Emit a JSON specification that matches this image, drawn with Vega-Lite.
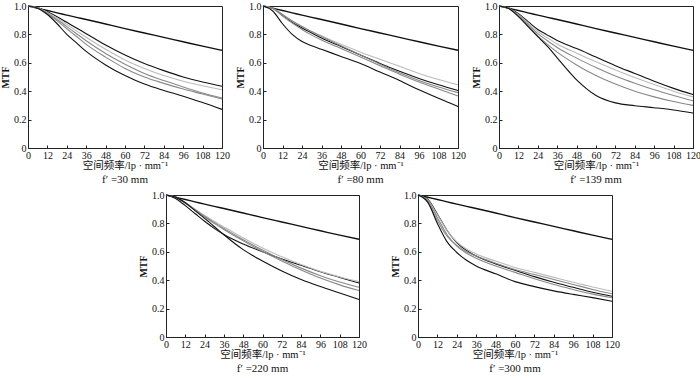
{
  "$schema": "https://vega.github.io/schema/vega-lite/v6.json",
  "background": "white",
  "padding": {"left": 0, "top": 0, "right": 0, "bottom": 0},
  "config": {
    "view": {"stroke": "#222", "strokeWidth": 1},
    "axis": {
      "domainColor": "#222", "domainWidth": 1,
      "tickColor": "#222", "tickSize": -3, "tickWidth": 1,
      "labelFont": "Liberation Serif", "labelFontSize": 10, "labelColor": "#111", "labelPadding": 5,
      "titleFont": "Liberation Serif, Noto Sans CJK SC", "titleFontSize": 10.5, "titleFontWeight": "normal", "titleColor": "#111",
      "grid": false, "labelFlush": false
    },
    "axisX": {"titlePadding": 0},
    "axisY": {"titleFontWeight": "bold", "titleFontSize": 10, "titlePadding": 3},
    "title": {"orient": "bottom", "font": "Liberation Serif", "fontSize": 11, "fontWeight": "normal", "color": "#111", "offset": 3, "anchor": "middle"}
  },
  "datasets": {
    "mtf": [
      {"panel":"30","freq":0,"diffraction":1,"c1":1,"c2":1,"c3":1,"c4":1,"c5":1},
      {"panel":"30","freq":6,"diffraction":0.984,"c1":0.99,"c2":0.988,"c3":0.987,"c4":0.986,"c5":0.985},
      {"panel":"30","freq":12,"diffraction":0.968,"c1":0.96,"c2":0.955,"c3":0.95,"c4":0.945,"c5":0.94},
      {"panel":"30","freq":18,"diffraction":0.952,"c1":0.925,"c2":0.915,"c3":0.905,"c4":0.895,"c5":0.875},
      {"panel":"30","freq":24,"diffraction":0.936,"c1":0.885,"c2":0.87,"c3":0.855,"c4":0.84,"c5":0.8},
      {"panel":"30","freq":30,"diffraction":0.92,"c1":0.845,"c2":0.825,"c3":0.805,"c4":0.785,"c5":0.74},
      {"panel":"30","freq":36,"diffraction":0.905,"c1":0.805,"c2":0.78,"c3":0.755,"c4":0.73,"c5":0.68},
      {"panel":"30","freq":48,"diffraction":0.873,"c1":0.725,"c2":0.695,"c3":0.665,"c4":0.64,"c5":0.585},
      {"panel":"30","freq":60,"diffraction":0.841,"c1":0.655,"c2":0.62,"c3":0.59,"c4":0.56,"c5":0.51},
      {"panel":"30","freq":72,"diffraction":0.81,"c1":0.595,"c2":0.56,"c3":0.525,"c4":0.5,"c5":0.45},
      {"panel":"30","freq":84,"diffraction":0.779,"c1":0.545,"c2":0.51,"c3":0.475,"c4":0.455,"c5":0.405},
      {"panel":"30","freq":96,"diffraction":0.748,"c1":0.5,"c2":0.47,"c3":0.43,"c4":0.415,"c5":0.365},
      {"panel":"30","freq":108,"diffraction":0.717,"c1":0.465,"c2":0.438,"c3":0.388,"c4":0.38,"c5":0.32},
      {"panel":"30","freq":120,"diffraction":0.688,"c1":0.435,"c2":0.41,"c3":0.352,"c4":0.345,"c5":0.272},

      {"panel":"80","freq":0,"diffraction":1,"c1":1,"c2":1,"c3":1,"c4":1,"c5":1},
      {"panel":"80","freq":6,"diffraction":0.984,"c1":0.985,"c2":0.985,"c3":0.985,"c4":0.983,"c5":0.965},
      {"panel":"80","freq":12,"diffraction":0.968,"c1":0.935,"c2":0.94,"c3":0.94,"c4":0.93,"c5":0.875},
      {"panel":"80","freq":18,"diffraction":0.952,"c1":0.885,"c2":0.895,"c3":0.895,"c4":0.88,"c5":0.8},
      {"panel":"80","freq":24,"diffraction":0.936,"c1":0.845,"c2":0.855,"c3":0.855,"c4":0.835,"c5":0.75},
      {"panel":"80","freq":30,"diffraction":0.92,"c1":0.81,"c2":0.82,"c3":0.82,"c4":0.795,"c5":0.72},
      {"panel":"80","freq":36,"diffraction":0.905,"c1":0.775,"c2":0.79,"c3":0.785,"c4":0.76,"c5":0.695},
      {"panel":"80","freq":48,"diffraction":0.873,"c1":0.715,"c2":0.73,"c3":0.72,"c4":0.7,"c5":0.645},
      {"panel":"80","freq":60,"diffraction":0.841,"c1":0.655,"c2":0.675,"c3":0.655,"c4":0.64,"c5":0.595},
      {"panel":"80","freq":72,"diffraction":0.81,"c1":0.595,"c2":0.625,"c3":0.59,"c4":0.58,"c5":0.535},
      {"panel":"80","freq":84,"diffraction":0.779,"c1":0.54,"c2":0.575,"c3":0.53,"c4":0.52,"c5":0.475},
      {"panel":"80","freq":96,"diffraction":0.748,"c1":0.49,"c2":0.525,"c3":0.476,"c4":0.465,"c5":0.41},
      {"panel":"80","freq":108,"diffraction":0.717,"c1":0.445,"c2":0.482,"c3":0.43,"c4":0.415,"c5":0.35},
      {"panel":"80","freq":120,"diffraction":0.688,"c1":0.405,"c2":0.445,"c3":0.39,"c4":0.366,"c5":0.293},

      {"panel":"139","freq":0,"diffraction":1,"c1":1,"c2":1,"c3":1,"c4":1,"c5":1},
      {"panel":"139","freq":6,"diffraction":0.984,"c1":0.985,"c2":0.985,"c3":0.984,"c4":0.983,"c5":0.982},
      {"panel":"139","freq":12,"diffraction":0.968,"c1":0.945,"c2":0.94,"c3":0.935,"c4":0.93,"c5":0.925},
      {"panel":"139","freq":18,"diffraction":0.952,"c1":0.89,"c2":0.88,"c3":0.87,"c4":0.86,"c5":0.855},
      {"panel":"139","freq":24,"diffraction":0.936,"c1":0.835,"c2":0.82,"c3":0.805,"c4":0.79,"c5":0.785},
      {"panel":"139","freq":30,"diffraction":0.92,"c1":0.795,"c2":0.775,"c3":0.755,"c4":0.73,"c5":0.715},
      {"panel":"139","freq":36,"diffraction":0.905,"c1":0.757,"c2":0.733,"c3":0.708,"c4":0.675,"c5":0.635},
      {"panel":"139","freq":48,"diffraction":0.873,"c1":0.7,"c2":0.668,"c3":0.633,"c4":0.585,"c5":0.48},
      {"panel":"139","freq":60,"diffraction":0.841,"c1":0.64,"c2":0.607,"c3":0.567,"c4":0.51,"c5":0.37},
      {"panel":"139","freq":72,"diffraction":0.81,"c1":0.58,"c2":0.55,"c3":0.507,"c4":0.45,"c5":0.318},
      {"panel":"139","freq":84,"diffraction":0.779,"c1":0.525,"c2":0.497,"c3":0.456,"c4":0.4,"c5":0.298},
      {"panel":"139","freq":96,"diffraction":0.748,"c1":0.47,"c2":0.447,"c3":0.41,"c4":0.36,"c5":0.284},
      {"panel":"139","freq":108,"diffraction":0.717,"c1":0.42,"c2":0.4,"c3":0.37,"c4":0.327,"c5":0.268},
      {"panel":"139","freq":120,"diffraction":0.688,"c1":0.376,"c2":0.36,"c3":0.333,"c4":0.3,"c5":0.246},

      {"panel":"220","freq":0,"diffraction":1,"c1":1,"c2":1,"c3":1,"c4":1,"c5":1},
      {"panel":"220","freq":6,"diffraction":0.984,"c1":0.975,"c2":0.986,"c3":0.985,"c4":0.985,"c5":0.985},
      {"panel":"220","freq":12,"diffraction":0.968,"c1":0.925,"c2":0.947,"c3":0.945,"c4":0.942,"c5":0.945},
      {"panel":"220","freq":18,"diffraction":0.952,"c1":0.87,"c2":0.9,"c3":0.898,"c4":0.895,"c5":0.89},
      {"panel":"220","freq":24,"diffraction":0.936,"c1":0.815,"c2":0.855,"c3":0.85,"c4":0.845,"c5":0.835},
      {"panel":"220","freq":30,"diffraction":0.92,"c1":0.765,"c2":0.815,"c3":0.807,"c4":0.8,"c5":0.778},
      {"panel":"220","freq":36,"diffraction":0.905,"c1":0.722,"c2":0.775,"c3":0.765,"c4":0.757,"c5":0.72},
      {"panel":"220","freq":48,"diffraction":0.873,"c1":0.655,"c2":0.697,"c3":0.685,"c4":0.677,"c5":0.615},
      {"panel":"220","freq":60,"diffraction":0.841,"c1":0.6,"c2":0.627,"c3":0.612,"c4":0.602,"c5":0.535},
      {"panel":"220","freq":72,"diffraction":0.81,"c1":0.55,"c2":0.565,"c3":0.545,"c4":0.535,"c5":0.465},
      {"panel":"220","freq":84,"diffraction":0.779,"c1":0.505,"c2":0.51,"c3":0.485,"c4":0.472,"c5":0.405},
      {"panel":"220","freq":96,"diffraction":0.748,"c1":0.46,"c2":0.462,"c3":0.432,"c4":0.415,"c5":0.355},
      {"panel":"220","freq":108,"diffraction":0.717,"c1":0.42,"c2":0.423,"c3":0.387,"c4":0.367,"c5":0.31},
      {"panel":"220","freq":120,"diffraction":0.688,"c1":0.38,"c2":0.39,"c3":0.35,"c4":0.327,"c5":0.264},

      {"panel":"300","freq":0,"diffraction":1,"c1":1,"c2":1,"c3":1,"c4":1,"c5":1},
      {"panel":"300","freq":6,"diffraction":0.984,"c1":0.97,"c2":0.965,"c3":0.95,"c4":0.96,"c5":0.95},
      {"panel":"300","freq":12,"diffraction":0.968,"c1":0.865,"c2":0.86,"c3":0.82,"c4":0.84,"c5":0.8},
      {"panel":"300","freq":18,"diffraction":0.952,"c1":0.75,"c2":0.75,"c3":0.71,"c4":0.72,"c5":0.67},
      {"panel":"300","freq":24,"diffraction":0.936,"c1":0.665,"c2":0.67,"c3":0.645,"c4":0.64,"c5":0.595},
      {"panel":"300","freq":30,"diffraction":0.92,"c1":0.61,"c2":0.62,"c3":0.6,"c4":0.59,"c5":0.54},
      {"panel":"300","freq":36,"diffraction":0.905,"c1":0.57,"c2":0.585,"c3":0.57,"c4":0.555,"c5":0.5},
      {"panel":"300","freq":48,"diffraction":0.873,"c1":0.515,"c2":0.535,"c3":0.52,"c4":0.5,"c5":0.445},
      {"panel":"300","freq":60,"diffraction":0.841,"c1":0.47,"c2":0.49,"c3":0.475,"c4":0.455,"c5":0.39},
      {"panel":"300","freq":72,"diffraction":0.81,"c1":0.425,"c2":0.455,"c3":0.44,"c4":0.41,"c5":0.355},
      {"panel":"300","freq":84,"diffraction":0.779,"c1":0.385,"c2":0.42,"c3":0.405,"c4":0.37,"c5":0.325},
      {"panel":"300","freq":96,"diffraction":0.748,"c1":0.35,"c2":0.385,"c3":0.37,"c4":0.335,"c5":0.3},
      {"panel":"300","freq":108,"diffraction":0.717,"c1":0.315,"c2":0.352,"c3":0.335,"c4":0.302,"c5":0.277},
      {"panel":"300","freq":120,"diffraction":0.688,"c1":0.287,"c2":0.322,"c3":0.304,"c4":0.276,"c5":0.252}
    ]
  },
  "data": {"name": "mtf"},
  "spacing": 4,
  "vconcat": [
    {
      "spacing": 5,
      "hconcat": [
        {
          "width": 194, "height": 142,
          "title": {"text": "f′ =30 mm"},
          "transform": [{"filter": "datum.panel == '30'"}, {"fold": ["diffraction","c1","c2","c3","c4","c5"], "as": ["series","mtf"]}],
          "mark": {"type": "line", "interpolate": "monotone"},
          "encoding": {
            "x": {"field": "freq", "type": "quantitative", "scale": {"domain": [0,120], "nice": false}, "axis": {"values": [0,12,24,36,48,60,72,84,96,108,120], "title": "空间频率/lp · mm⁻¹"}},
            "y": {"field": "mtf", "type": "quantitative", "scale": {"domain": [0,1], "nice": false}, "axis": {"values": [0,0.2,0.4,0.6,0.8,1], "labelExpr": "datum.value == 0 ? '0' : format(datum.value, '.1f')", "title": "MTF"}},
            "color": {"field": "series", "type": "nominal", "scale": {"domain": ["diffraction","c1","c2","c3","c4","c5"], "range": ["#111","#111","#bbb","#888","#888","#111"]}, "legend": null},
            "strokeWidth": {"condition": {"test": "datum.series == 'diffraction'", "value": 1.4}, "value": 1.1}
          }
        },
        {
          "width": 195, "height": 142,
          "title": {"text": "f′ =80 mm"},
          "transform": [{"filter": "datum.panel == '80'"}, {"fold": ["diffraction","c1","c2","c3","c4","c5"], "as": ["series","mtf"]}],
          "mark": {"type": "line", "interpolate": "monotone"},
          "encoding": {
            "x": {"field": "freq", "type": "quantitative", "scale": {"domain": [0,120], "nice": false}, "axis": {"values": [0,12,24,36,48,60,72,84,96,108,120], "title": "空间频率/lp · mm⁻¹"}},
            "y": {"field": "mtf", "type": "quantitative", "scale": {"domain": [0,1], "nice": false}, "axis": {"values": [0,0.2,0.4,0.6,0.8,1], "labelExpr": "datum.value == 0 ? '0' : format(datum.value, '.1f')", "title": "MTF"}},
            "color": {"field": "series", "type": "nominal", "scale": {"domain": ["diffraction","c1","c2","c3","c4","c5"], "range": ["#111","#111","#bbb","#888","#888","#111"]}, "legend": null},
            "strokeWidth": {"condition": {"test": "datum.series == 'diffraction'", "value": 1.4}, "value": 1.1}
          }
        },
        {
          "width": 194, "height": 142,
          "title": {"text": "f′ =139 mm"},
          "transform": [{"filter": "datum.panel == '139'"}, {"fold": ["diffraction","c1","c2","c3","c4","c5"], "as": ["series","mtf"]}],
          "mark": {"type": "line", "interpolate": "monotone"},
          "encoding": {
            "x": {"field": "freq", "type": "quantitative", "scale": {"domain": [0,120], "nice": false}, "axis": {"values": [0,12,24,36,48,60,72,84,96,108,120], "title": "空间频率/lp · mm⁻¹"}},
            "y": {"field": "mtf", "type": "quantitative", "scale": {"domain": [0,1], "nice": false}, "axis": {"values": [0,0.2,0.4,0.6,0.8,1], "labelExpr": "datum.value == 0 ? '0' : format(datum.value, '.1f')", "title": "MTF"}},
            "color": {"field": "series", "type": "nominal", "scale": {"domain": ["diffraction","c1","c2","c3","c4","c5"], "range": ["#111","#111","#bbb","#888","#888","#111"]}, "legend": null},
            "strokeWidth": {"condition": {"test": "datum.series == 'diffraction'", "value": 1.4}, "value": 1.1}
          }
        }
      ]
    },
    {
      "spacing": 23,
      "hconcat": [
        {
          "width": 86, "height": 142,
          "data": {"values": []},
          "mark": "point",
          "encoding": {},
          "view": {"stroke": "transparent"}
        },
        {
          "width": 193, "height": 142,
          "title": {"text": "f′ =220 mm"},
          "transform": [{"filter": "datum.panel == '220'"}, {"fold": ["diffraction","c1","c2","c3","c4","c5"], "as": ["series","mtf"]}],
          "mark": {"type": "line", "interpolate": "monotone"},
          "encoding": {
            "x": {"field": "freq", "type": "quantitative", "scale": {"domain": [0,120], "nice": false}, "axis": {"values": [0,12,24,36,48,60,72,84,96,108,120], "title": "空间频率/lp · mm⁻¹"}},
            "y": {"field": "mtf", "type": "quantitative", "scale": {"domain": [0,1], "nice": false}, "axis": {"values": [0,0.2,0.4,0.6,0.8,1], "labelExpr": "datum.value == 0 ? '0' : format(datum.value, '.1f')", "title": "MTF"}},
            "color": {"field": "series", "type": "nominal", "scale": {"domain": ["diffraction","c1","c2","c3","c4","c5"], "range": ["#111","#111","#bbb","#888","#888","#111"]}, "legend": null},
            "strokeWidth": {"condition": {"test": "datum.series == 'diffraction'", "value": 1.4}, "value": 1.1}
          }
        },
        {
          "width": 194, "height": 142,
          "title": {"text": "f′ =300 mm"},
          "transform": [{"filter": "datum.panel == '300'"}, {"fold": ["diffraction","c1","c2","c3","c4","c5"], "as": ["series","mtf"]}],
          "mark": {"type": "line", "interpolate": "monotone"},
          "encoding": {
            "x": {"field": "freq", "type": "quantitative", "scale": {"domain": [0,120], "nice": false}, "axis": {"values": [0,12,24,36,48,60,72,84,96,108,120], "title": "空间频率/lp · mm⁻¹"}},
            "y": {"field": "mtf", "type": "quantitative", "scale": {"domain": [0,1], "nice": false}, "axis": {"values": [0,0.2,0.4,0.6,0.8,1], "labelExpr": "datum.value == 0 ? '0' : format(datum.value, '.1f')", "title": "MTF"}},
            "color": {"field": "series", "type": "nominal", "scale": {"domain": ["diffraction","c1","c2","c3","c4","c5"], "range": ["#111","#111","#888","#888","#111","#111"]}, "legend": null},
            "strokeWidth": {"condition": {"test": "datum.series == 'diffraction'", "value": 1.4}, "value": 1.1}
          }
        }
      ]
    }
  ]
}
